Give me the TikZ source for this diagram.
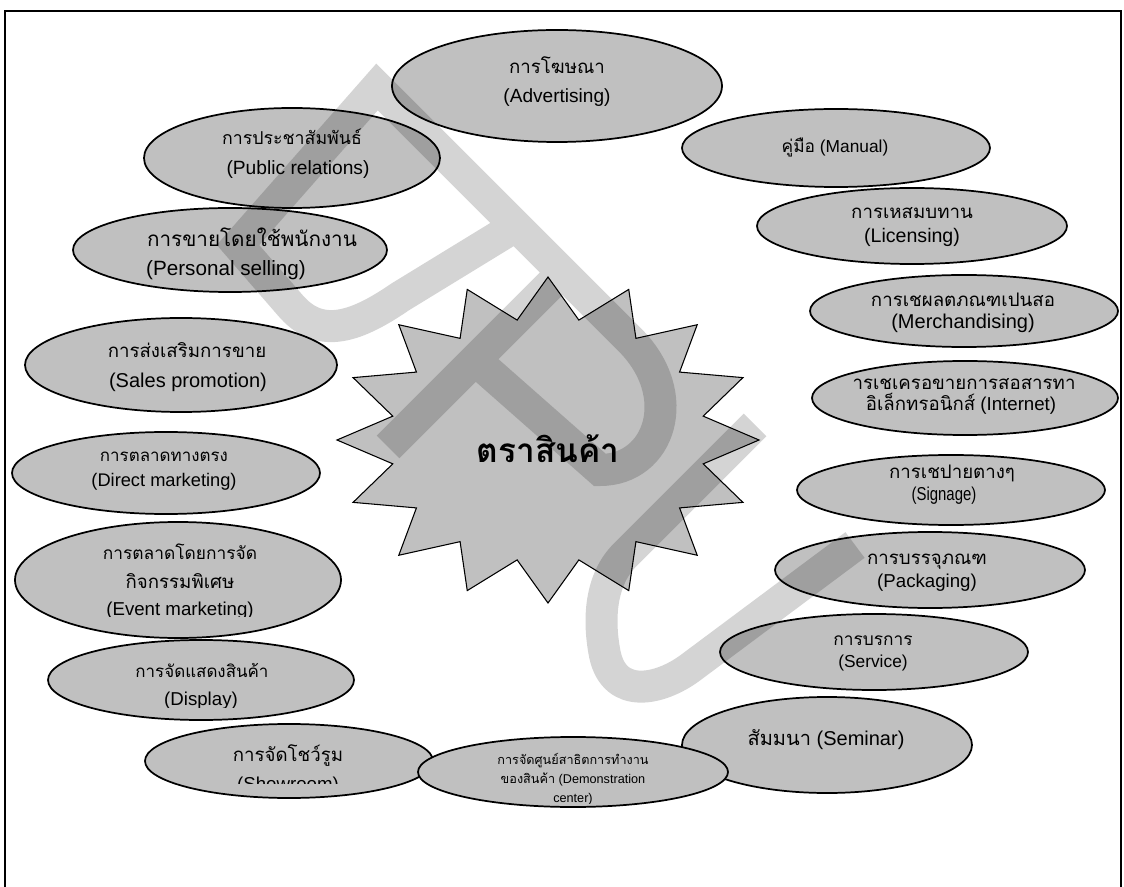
\documentclass[tikz,border=0pt]{standalone}
\usepackage{fontspec}
\setmainfont{Liberation Sans}
\newfontfamily\thaifont[Script=Thai]{Loma}
\usetikzlibrary{shapes.geometric}
\definecolor{bubfill}{HTML}{C0C0C0}
\newcommand{\thai}[1]{{\thaifont #1}}
\begin{document}
\begin{tikzpicture}[x=0.75pt,y=-0.75pt,
  bub/.style 2 args={ellipse, draw=black, line width=1.3pt, fill=bubfill,
    inner sep=0pt, minimum width=#1*1.5pt, minimum height=#2*1.5pt},
  lbl/.style={font=\fontsize{#1}{#1}\selectfont, inner sep=0pt, anchor=base},
  lbl/.default=14,
  small/.style={font=\fontsize{9.5}{11}\selectfont, inner sep=0pt, anchor=base},
  frame/.style={line width=1.5pt},
  wm/.style={draw=black, draw opacity=0.17, line width=24pt, line join=miter,
    line cap=butt}]
\useasboundingbox (0,0) rectangle (1124,887);

% outer frame (open at the bottom)
\draw[frame] (5,887) -- (5,11) -- (1121,11) -- (1121,887);

% central starburst
\draw[fill=bubfill, line width=0.8pt]
  plot[samples at={0,...,31}, variable=\k]
  ({548+211*(1-0.25*mod(\k,2))*cos(90+11.25*\k)},
   {440-163*(1-0.25*mod(\k,2))*sin(90+11.25*\k)}) -- cycle;
\node[font=\thaifont\bfseries\fontsize{25}{30}\selectfont, inner sep=0pt, anchor=base]
  (brand) at (548,463) {ตราสินค้า};

% ellipses
\node[bub={165}{56}] (adv) at (557,86) {};
\node[bub={148}{50}] (pr)  at (292,158) {};
\node[bub={154}{39}] (man) at (836,148) {};
\node[bub={157}{42}] (ps)  at (230,250) {};
\node[bub={155}{38}] (lic) at (912,226) {};
\node[bub={154}{36}] (mer) at (964,311) {};
\node[bub={156}{47}] (sp)  at (181,365) {};
\node[bub={153}{37}] (net) at (965,398) {};
\node[bub={154}{41}] (dm)  at (166,473) {};
\node[bub={154}{35}] (sig) at (951,490) {};
\node[bub={163}{58}] (ev)  at (178,580) {};
\node[bub={155}{38}] (pack) at (930,570) {};
\node[bub={154}{38}] (serv) at (874,652) {};
\node[bub={153}{40}] (disp) at (201,680) {};
\node[bub={145}{48}] (sem) at (827,745) {};
\node[bub={144}{37}] (show) at (289,761) {};
\node[bub={155}{35}] (demo) at (573,772) {};

% labels
\node[lbl] (adv-a) at (557,74) {\thai{การโฆษณา}};
\node[lbl=14.3] (adv-b) at (557,103) {(Advertising)};
\node[lbl=13.3] (pr-a) at (292,145) {\thai{การประชาสัมพันธ์}};
\node[lbl=14.4] (pr-b) at (298,175) {(Public relations)};
\node[lbl=13] (man-a) at (835,153) {\thai{คู่มือ} (Manual)};
\node[lbl=15.5] (ps-a) at (252,247) {\thai{การขายโดยใช้พนักงาน}};
\node[lbl=15.5] (ps-b) at (226,276) {(Personal selling)};
\node[lbl] (lic-a) at (912,219) {\thai{การเหสมบทาน}};
\node[lbl=14.7] (lic-b) at (912,243) {(Licensing)};
\node[lbl] (mer-a) at (963,307) {\thai{การเชผลตภณฑเปนสอ}};
\node[lbl=15] (mer-b) at (963,329) {(Merchandising)};
\node[lbl] (sp-a) at (187,358) {\thai{การส่งเสริมการขาย}};
\node[lbl=15] (sp-b) at (188,388) {(Sales promotion)};
\node[lbl] (net-a) at (964,390) {\thai{ารเชเครอขายการสอสารทา}};
\node[lbl] (net-b) at (961,411) {\thai{อิเล็กทรอนิกส์} (Internet)};
\node[lbl=12.7] (dm-a) at (164,462) {\thai{การตลาดทางตรง}};
\node[lbl=13.7] (dm-b) at (164,487) {(Direct marketing)};
\node[lbl] (sig-a) at (952,479) {\thai{การเชปายตางๆ}};
\node[lbl] (sig-b) at (944,500) {\scalebox{0.8}[1]{(Signage)}};
\node[lbl=13] (ev-a) at (180,559) {\thai{การตลาดโดยการจัด}};
\node[lbl] (ev-b) at (180,588) {\thai{กิจกรรมพิเศษ}};
\begin{scope}
  \clip (0,0) rectangle (1124,616);
  \node[lbl] (ev-c) at (180,615) {(Event marketing)};
\end{scope}
\node[lbl] (pack-a) at (927,564) {\thai{การบรรจุภณฑ}};
\node[lbl] (pack-b) at (927,587) {(Packaging)};
\node[lbl=13] (serv-a) at (873,645) {\thai{การบรการ}};
\node[lbl=13] (serv-b) at (873,667) {(Service)};
\node[lbl=12.7] (disp-a) at (202,677) {\thai{การจัดแสดงสินค้า}};
\begin{scope}
  \clip (0,0) rectangle (1124,707);
  \node[lbl] (disp-b) at (201,705) {(Display)};
\end{scope}
\node[lbl=15] (sem-a) at (826,745) {\thai{สัมมนา} (Seminar)};
\node[lbl] (show-a) at (288,761) {\thai{การจัดโชว์รูม}};
\begin{scope}
  \clip (0,0) rectangle (1124,783);
  \node[lbl] (show-b) at (288,790) {(Showroom)};
\end{scope}
\node[small] (demo-a) at (573,764) {\thai{การจัดศูนย์สาธิตการทำงาน}};
\node[small] (demo-b) at (573,783) {\thai{ของสินค้า} (Demonstration};
\begin{scope}
  \clip (0,0) rectangle (1124,803);
  \node[small] (demo-c) at (573,802) {center)};
\end{scope}

% translucent grey watermark strokes laid over everything
\draw[wm]
  (516,226) -- (400,297) .. controls (352,330) and (318,338) .. (290,305)
  -- (238,245) -- (377,87) -- (630,340)
  .. controls (685,395) and (660,470) .. (600,470) -- (482,366)
  (388,447) -- (565,270)
  (755,425) -- (625,555) .. controls (600,580) and (598,620) .. (605,655)
  .. controls (615,700) and (660,690) .. (690,668) -- (855,545);
\end{tikzpicture}
\end{document}
